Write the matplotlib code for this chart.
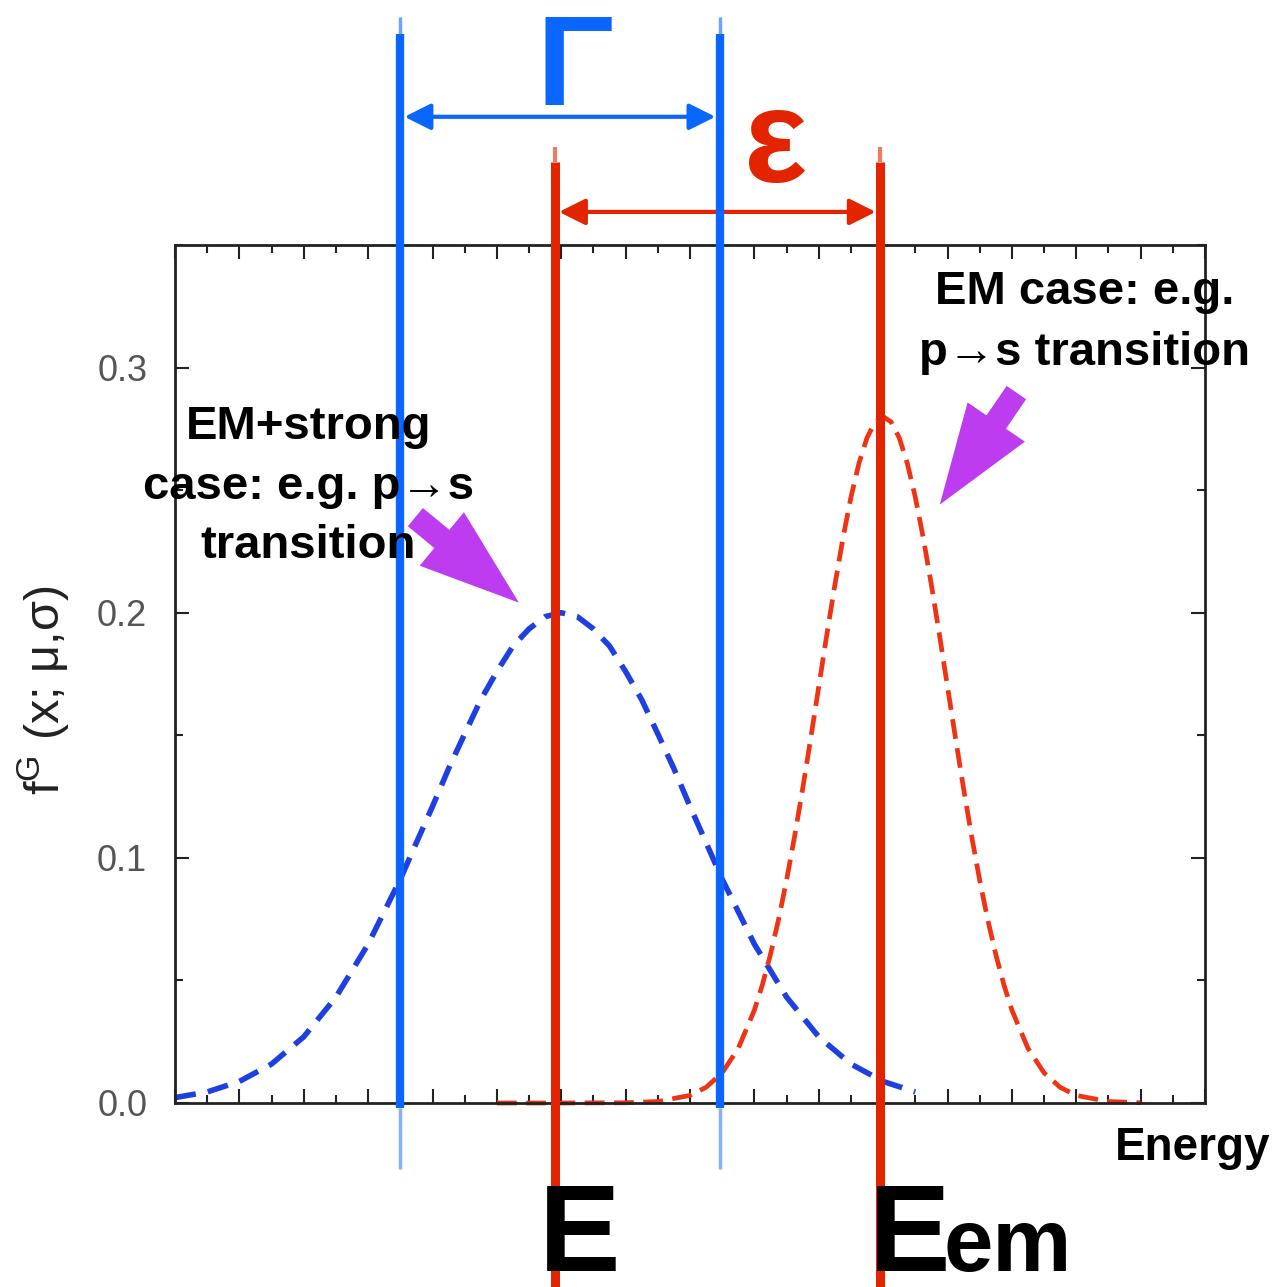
import matplotlib
matplotlib.use("Agg")
import matplotlib.pyplot as plt
from matplotlib.ticker import MultipleLocator

# Gaussian curves (energy in arbitrary units)
blue_x = [0, 0.5, 1, 1.5, 2, 2.5, 3, 3.5, 3.75, 4, 4.25, 4.5, 4.75, 5, 5.25,
          5.5, 5.75, 6, 6.25, 6.5, 6.75, 7, 7.25, 7.5, 7.75, 8, 8.25, 8.5,
          9, 9.5, 10, 10.5, 11, 11.5]
blue_y = [0.0022, 0.0045, 0.0088, 0.0159, 0.0270, 0.0432, 0.0648, 0.0913,
          0.1062, 0.1210, 0.1364, 0.1506, 0.1645, 0.1760, 0.1864, 0.1934,
          0.1984, 0.2000, 0.1984, 0.1934, 0.1864, 0.1760, 0.1645, 0.1506,
          0.1364, 0.1210, 0.1062, 0.0913, 0.0648, 0.0432, 0.0270, 0.0159,
          0.0088, 0.0045]

red_x = [5, 6, 7, 7.5, 8, 8.25, 8.5, 8.75, 9, 9.125, 9.25, 9.375, 9.5, 9.625,
         9.75, 9.875, 10, 10.125, 10.25, 10.375, 10.5, 10.625, 10.75, 10.875,
         11, 11.125, 11.25, 11.375, 11.5, 11.625, 11.75, 11.875, 12, 12.125,
         12.25, 12.375, 12.5, 12.625, 12.75, 12.875, 13, 13.25, 13.5, 13.75,
         14, 14.5, 15]
red_y = [0.0, 0.0, 0.0001, 0.0006, 0.0031, 0.0064, 0.0123, 0.0223, 0.0379,
         0.0483, 0.0606, 0.0748, 0.0909, 0.1088, 0.1282, 0.1487, 0.1698,
         0.1910, 0.2113, 0.2303, 0.2471, 0.2610, 0.2714, 0.2778, 0.2800,
         0.2778, 0.2714, 0.2610, 0.2471, 0.2303, 0.2113, 0.1910, 0.1698,
         0.1487, 0.1282, 0.1088, 0.0909, 0.0748, 0.0606, 0.0483, 0.0379,
         0.0223, 0.0123, 0.0064, 0.0031, 0.0006, 0.0001]

# hand drawn marker lines
gamma_lines = [3.5, 8.46]
eps_lines = [5.9, 10.95]

yticks = [0.0, 0.1, 0.2, 0.3]
ytick_labels = ["0.0", "0.1", "0.2", "0.3"]

plt.rcParams['font.family'] = ['Liberation Sans', 'DejaVu Sans']
plt.rcParams['mathtext.fontset'] = 'custom'
plt.rcParams['mathtext.rm'] = 'Liberation Sans'

BLUE = '#0a66ff'
RED = '#e22400'
PURPLE = '#bd3cef'

fig = plt.figure(figsize=(12.72, 12.87), dpi=100)
ax = fig.add_axes([175 / 1272, 1 - 1103 / 1287, 1030 / 1272, 858 / 1287])

ax.set_xlim(0, 16)
ax.set_ylim(0, 0.35)

# curves
ax.plot(blue_x, blue_y, color='#1e40e0', lw=4.0, linestyle=(0, (3.8, 2.2)),
        clip_on=False, zorder=2)
ax.plot(red_x, red_y, color='#ee3414', lw=3.4, linestyle=(0, (4.2, 2.0)),
        clip_on=False, zorder=2)

# vertical marker lines, faded at the ends
for xv in gamma_lines:
    ax.plot([xv, xv], [-0.002, 0.436], color=BLUE, lw=6, solid_capstyle='butt',
            clip_on=False, zorder=4)
    ax.plot([xv, xv], [0.436, 0.443], color=BLUE, lw=2.5, alpha=0.6,
            solid_capstyle='butt', clip_on=False, zorder=4)
    ax.plot([xv, xv], [-0.027, -0.002], color=BLUE, lw=2.5, alpha=0.5,
            solid_capstyle='butt', clip_on=False, zorder=4)
for xv in eps_lines:
    ax.plot([xv, xv], [-0.08, 0.384], color=RED, lw=6.5, solid_capstyle='butt',
            clip_on=False, zorder=4)
    ax.plot([xv, xv], [0.384, 0.39], color=RED, lw=3, alpha=0.6,
            solid_capstyle='butt', clip_on=False, zorder=4)

# Gamma and epsilon double arrows
ax.annotate('', xy=(gamma_lines[1], 0.4023), xytext=(gamma_lines[0], 0.4023),
            arrowprops=dict(arrowstyle='<|-|>,head_length=0.8,head_width=0.4',
                            mutation_scale=20, color=BLUE, lw=3,
                            shrinkA=3, shrinkB=3),
            annotation_clip=False)
ax.annotate('', xy=(eps_lines[1], 0.3635), xytext=(eps_lines[0], 0.3635),
            arrowprops=dict(arrowstyle='<|-|>,head_length=0.8,head_width=0.4',
                            mutation_scale=20, color=RED, lw=3,
                            shrinkA=3, shrinkB=3),
            annotation_clip=False)

ax.text(6.21, 0.407, 'Γ', color=BLUE, fontsize=92, fontweight='bold',
        ha='center', va='baseline', clip_on=False, zorder=6)
ax.text(9.33, 0.3755, 'ε', color=RED, fontsize=96, fontweight='bold',
        ha='center', va='baseline', clip_on=False, zorder=6)

# energy labels below the axis
ax.text(5.65, -0.0685, 'E', fontsize=88, fontweight='bold', ha='left',
        va='baseline', clip_on=False, zorder=6)
ax.text(10.78, -0.0685, 'E', fontsize=88, fontweight='bold', ha='left',
        va='baseline', clip_on=False, zorder=6)
ax.text(11.94, -0.0685, 'em', fontsize=64, fontweight='bold', ha='left',
        va='baseline', clip_on=False, zorder=6)
ax.text(14.6, -0.0233, 'Energy', fontsize=33, fontweight='bold', ha='left',
        va='baseline', clip_on=False, zorder=6)

# case annotations
ax.text(2.07, 0.2514, 'EM+strong\ncase: e.g. p→s\ntransition', fontsize=34,
        fontweight='bold', ha='center', va='center', multialignment='center',
        linespacing=1.45, clip_on=False, zorder=6)
ax.text(14.13, 0.3184, 'EM case: e.g.\np→s transition', fontsize=34,
        fontweight='bold', ha='center', va='center', multialignment='center',
        linespacing=1.5, clip_on=False, zorder=6)

simple = 'simple,head_length=72,head_width=50,tail_width=17'
ax.annotate('', xy=(5.342, 0.2041), xytext=(3.734, 0.2390),
            arrowprops=dict(arrowstyle=simple, mutation_scale=1, color=PURPLE,
                            lw=0, shrinkA=0, shrinkB=0),
            annotation_clip=False)
ax.annotate('', xy=(11.88, 0.2441), xytext=(13.07, 0.2898),
            arrowprops=dict(arrowstyle=simple, mutation_scale=1, color=PURPLE,
                            lw=0, shrinkA=0, shrinkB=0),
            annotation_clip=False)

# axes styling
ax.xaxis.set_major_locator(MultipleLocator(1))
ax.xaxis.set_minor_locator(MultipleLocator(0.5))
ax.set_yticks(yticks, ytick_labels)
ax.yaxis.set_minor_locator(MultipleLocator(0.05))
ax.tick_params(which='both', direction='in', top=True, right=True,
               color='#222222', width=1.5)
ax.tick_params(which='major', length=10)
ax.tick_params(which='minor', length=6)
ax.tick_params(axis='x', labelbottom=False)
ax.tick_params(axis='y', labelsize=26, labelcolor='#555555', pad=20)
for sp in ax.spines.values():
    sp.set_linewidth(2)
    sp.set_color('#222222')

ax.set_ylabel(r'f$^{\mathregular{G}}$ (x; μ,σ)', fontsize=35, color='#222222')
ax.yaxis.set_label_coords(-0.1, 0.481)

fig.savefig('out.png', dpi=100)
